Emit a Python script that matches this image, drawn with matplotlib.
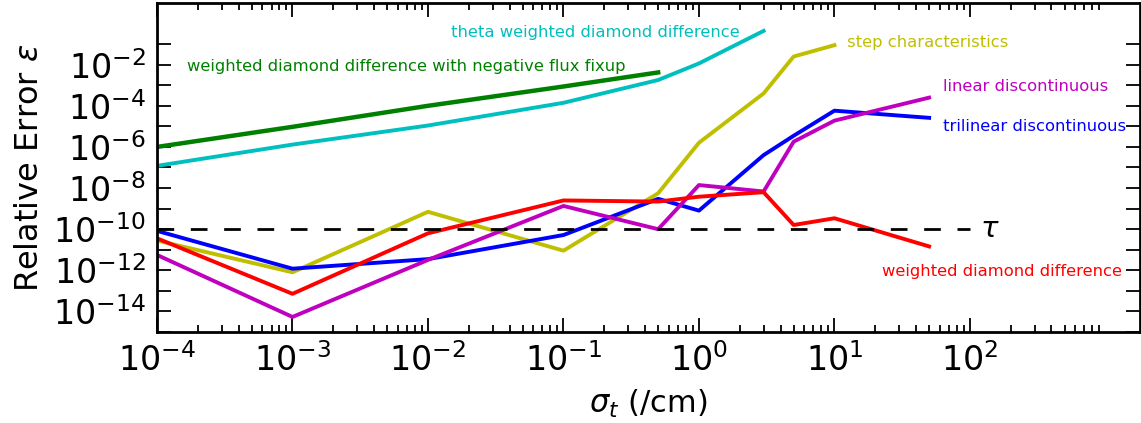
import math

import matplotlib
matplotlib.use("Agg")
import matplotlib.pyplot as plt
from matplotlib.ticker import LogLocator, FixedLocator, FuncFormatter, NullFormatter

# --- data ---
sigma_full = [1e-4, 1e-3, 1e-2, 1e-1, 0.5, 1.0, 3.0, 5.0, 10.0, 50.0]
sigma_step = [1e-4, 1e-3, 1e-2, 1e-1, 0.5, 1.0, 3.0, 5.0, 10.0]
sigma_theta = [1e-4, 1e-3, 1e-2, 1e-1, 0.5, 1.0, 3.0]
sigma_fixup = [1e-4, 1e-3, 1e-2, 1e-1, 0.5]

err_wdd = [3.6e-11, 7.2e-14, 6.3e-11, 2.5e-9, 2.2e-9, 3.8e-9, 6.3e-9, 1.6e-10, 3.4e-10, 1.45e-11]
err_ld = [5.6e-12, 5.4e-15, 3.2e-12, 1.35e-9, 1.0e-10, 1.4e-8, 6.8e-9, 1.8e-6, 1.9e-5, 2.5e-4]
err_tld = [8.3e-11, 1.2e-12, 3.5e-12, 5.2e-11, 3.0e-9, 8.0e-10, 4.0e-7, 3.5e-6, 5.8e-5, 2.6e-5]
err_sc = [2.8e-11, 8.0e-13, 7.0e-10, 9.0e-12, 5.6e-9, 1.6e-6, 4.0e-4, 2.5e-2, 8.9e-2]
err_theta = [1.2e-7, 1.3e-6, 1.1e-5, 1.4e-4, 1.8e-3, 1.15e-2, 0.44]
err_fixup = [1.0e-6, 9.5e-6, 1.0e-4, 8.7e-4, 4.2e-3]

tau = 1e-10

GREEN = (0, 0.5, 0)
CYAN = (0, 0.75, 0.75)
YELLOW = (0.75, 0.75, 0)
MAGENTA = (0.75, 0, 0.75)

fig = plt.figure(figsize=(11.41, 4.23), dpi=100)
ax = fig.add_axes([157 / 1141, 91 / 423, 983 / 1141, 329 / 423])

ax.plot(sigma_fixup, err_fixup, color=GREEN, lw=3.2)
ax.plot(sigma_theta, err_theta, color=CYAN, lw=2.8)
ax.plot(sigma_step, err_sc, color=YELLOW, lw=2.8)
ax.plot(sigma_full, err_tld, color="b", lw=2.8)
ax.plot(sigma_full, err_ld, color=MAGENTA, lw=2.8)
ax.plot(sigma_full, err_wdd, color="r", lw=2.8)
ax.plot([1e-4, 1e2], [tau, tau], color="k", lw=2, dashes=(6, 6))

# labels next to the curves
fs = 11.8
ax.text(0.0148, 0.38, "theta weighted diamond difference", color=CYAN,
        fontsize=fs, va="center")
ax.text(1.66e-4, 7.8e-3, "weighted diamond difference with negative flux fixup",
        color=GREEN, fontsize=fs, va="center")
ax.text(12.4, 0.12, "step characteristics", color=YELLOW, fontsize=fs, va="center")
ax.text(63, 9.1e-4, "linear discontinuous", color=MAGENTA, fontsize=fs, va="center")
ax.text(63, 1.0e-5, "trilinear discontinuous", color="b", fontsize=fs, va="center")
ax.text(22.4, 8.5e-13, "weighted diamond difference", color="r", fontsize=fs, va="center")
ax.text(118, tau, r"$\tau$", fontsize=21, va="center")

ax.set_xscale("log")
ax.set_yscale("log")
ax.set_xlim(1e-4, 1.8e3)
ax.set_ylim(1e-15, 1e1)

ax.xaxis.set_minor_locator(LogLocator(base=10, subs=range(2, 10), numticks=20))
ax.xaxis.set_minor_formatter(NullFormatter())
ax.set_xticks([10.0 ** k for k in range(-4, 3)])
ax.set_xticklabels([r"$10^{%d}$" % k for k in range(-4, 3)])


def even_decade(v, _):
    k = round(math.log10(v))
    return r"$10^{%d}$" % k if k % 2 == 0 else ""


ax.yaxis.set_major_locator(FixedLocator([10.0 ** k for k in range(-15, 0)]))
ax.yaxis.set_minor_locator(FixedLocator([]))
ax.yaxis.set_major_formatter(FuncFormatter(even_decade))

ax.tick_params(which="both", direction="in", top=True, right=True, width=1.3)
ax.tick_params(which="major", length=10, labelsize=24, pad=8)
ax.tick_params(which="minor", length=5)
for sp in ax.spines.values():
    sp.set_linewidth(2)

ax.set_xlabel(r"$\sigma_t\ (/$cm)", fontsize=22, labelpad=7)
ax.set_ylabel(r"Relative Error $\epsilon$", fontsize=23, labelpad=6)

fig.savefig("out.png", dpi=100)
